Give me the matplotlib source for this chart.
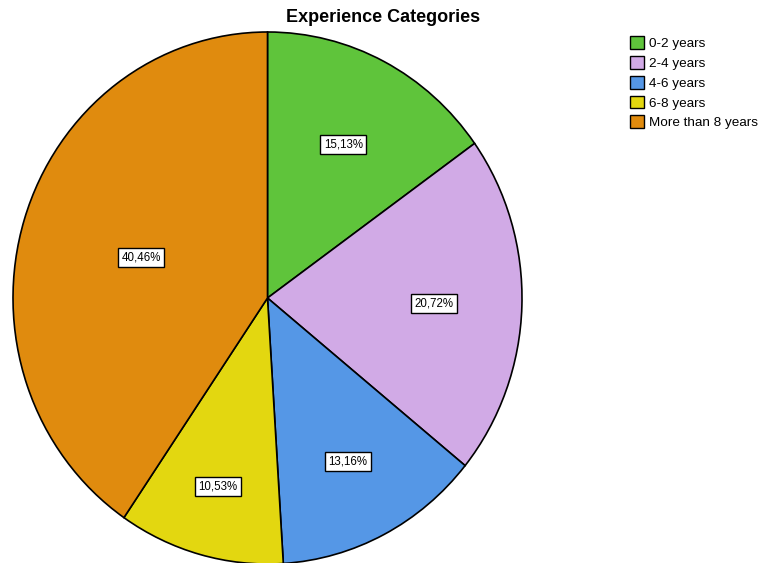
import matplotlib.pyplot as plt
import numpy as np
from matplotlib.patches import Patch

plt.rcParams['font.family'] = ['Liberation Sans', 'DejaVu Sans']

categories = ['0-2 years', '2-4 years', '4-6 years', '6-8 years', 'More than 8 years']
percents = [15.13, 20.72, 13.16, 10.53, 40.46]
colors = ['#5FC43B', '#D1AAE6', '#5597E6', '#E3D710', '#E08B0E']
label_dist = [0.65, 0.655, 0.69, 0.735, 0.52]

W, H = 758, 563
fig = plt.figure(figsize=(W / 100, H / 100), dpi=100)
# pie bounding box in pixels (slightly taller than wide, as in the reference)
ax = fig.add_axes([13 / W, (H - 564) / H, 509 / W, 532 / H])
wedges, _ = ax.pie(percents, colors=colors, startangle=90, counterclock=False,
                   wedgeprops=dict(edgecolor='black', linewidth=1.2))
ax.set_aspect('auto')
ax.set_xlim(-1, 1)
ax.set_ylim(-1, 1)

# percentage labels in white boxes
start = 90.0
for p, r in zip(percents, label_dist):
    mid = np.deg2rad(start - p * 3.6 / 2)
    start -= p * 3.6
    ax.text(r * np.cos(mid), r * np.sin(mid), f'{p:.2f}%'.replace('.', ','),
            ha='center', va='center', fontsize=8.3,
            bbox=dict(boxstyle='square,pad=0.3', facecolor='white', edgecolor='black', linewidth=1))

fig.text(383 / W, 1 - 18 / H, 'Experience Categories', ha='center', va='center',
         fontsize=13, fontweight='bold')

handles = [Patch(facecolor=c, edgecolor='black', linewidth=1) for c in colors]
fig.legend(handles, categories, loc='upper left', bbox_to_anchor=(625 / W, 1 - 31 / H),
           frameon=False, fontsize=9.7, handlelength=1.0, handleheight=1.1,
           handletextpad=0.35, labelspacing=0.42, borderaxespad=0)

plt.savefig('out.png', dpi=100)
